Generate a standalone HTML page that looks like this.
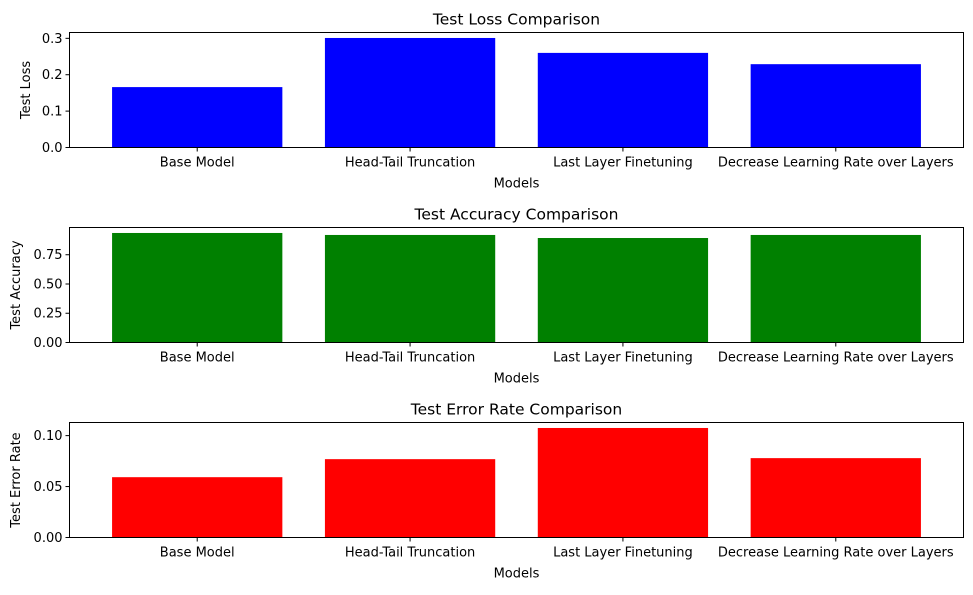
<!DOCTYPE html>
<html><head><meta charset="utf-8"><style>
body{margin:0;background:#fff;}
svg text{font-family:"DejaVu Sans","Liberation Sans",sans-serif;fill:#000;}
</style></head><body>
<svg id="chart" width="973" height="590" xmlns="http://www.w3.org/2000/svg"></svg>
<script>
const categories=["Base Model","Head-Tail Truncation","Last Layer Finetuning","Decrease Learning Rate over Layers"];
const lossValues=[0.166,0.301,0.260,0.229];
const accValues=[0.936,0.919,0.893,0.919];
const errValues=[0.0592,0.0769,0.1075,0.0779];
const lossTicks=[0,0.1,0.2,0.3];
const lossTickLabels=["0.0","0.1","0.2","0.3"];
const accTicks=[0,0.25,0.5,0.75];
const accTickLabels=["0.00","0.25","0.50","0.75"];
const errTicks=[0,0.05,0.1];
const errTickLabels=["0.00","0.05","0.10"];

const svg=document.getElementById('chart');
const NS="http://www.w3.org/2000/svg";
function mk(tag,attrs){const e=document.createElementNS(NS,tag);for(const k in attrs)e.setAttribute(k,attrs[k]);svg.appendChild(e);return e;}
const L=69.5,R=963.5;
function panel(key,top,bottom,values,ticks,labels,color,title,ylabel){
  const ymax=Math.max(...values)*1.05;
  const y=v=>bottom-(v/ymax)*(bottom-top);
  const x=i=>L+(i+0.6)/4.2*(R-L);
  const bw=0.8/4.2*(R-L);
  values.forEach((v,i)=>{
    const r=mk('rect',{x:x(i)-bw/2,y:y(v),width:bw,height:bottom-y(v),fill:color});
    
    
  });
  const f=mk('rect',{x:L,y:top,width:R-L,height:bottom-top,fill:'none',stroke:'#000','stroke-width':1});
  
  
  ticks.forEach((t,i)=>{
    mk('line',{x1:L-4,x2:L,y1:y(t),y2:y(t),stroke:'#000'});
    const tx=mk('text',{x:L-7,y:y(t)+4.5,'text-anchor':'end','font-size':13});
    tx.textContent=labels[i];
    
    
  });
  categories.forEach((c,i)=>{
    mk('line',{x1:x(i),x2:x(i),y1:bottom,y2:bottom+4,stroke:'#000'});
    const tx=mk('text',{x:x(i),y:bottom+19,'text-anchor':'middle','font-size':13});
    tx.textContent=c;
    
    
  });
  const t=mk('text',{x:(L+R)/2,y:top-8,'text-anchor':'middle','font-size':15.5});
  t.textContent=title;
  
  
  const xl=mk('text',{x:(L+R)/2,y:bottom+40,'text-anchor':'middle','font-size':13});
  xl.textContent='Models';
  
  
  const yl=mk('text',{x:0,y:0,'text-anchor':'middle','font-size':13,transform:`translate(${key==='loss'?30:20},${(top+bottom)/2}) rotate(-90)`});
  yl.textContent=ylabel;
  
  
}
panel('loss',32.5,147.5,lossValues,lossTicks,lossTickLabels,'#0000ff','Test Loss Comparison','Test Loss');
panel('accuracy',227.5,342.5,accValues,accTicks,accTickLabels,'#008000','Test Accuracy Comparison','Test Accuracy');
panel('error',422.5,537.5,errValues,errTicks,errTickLabels,'#ff0000','Test Error Rate Comparison','Test Error Rate');
</script>
</body></html>
